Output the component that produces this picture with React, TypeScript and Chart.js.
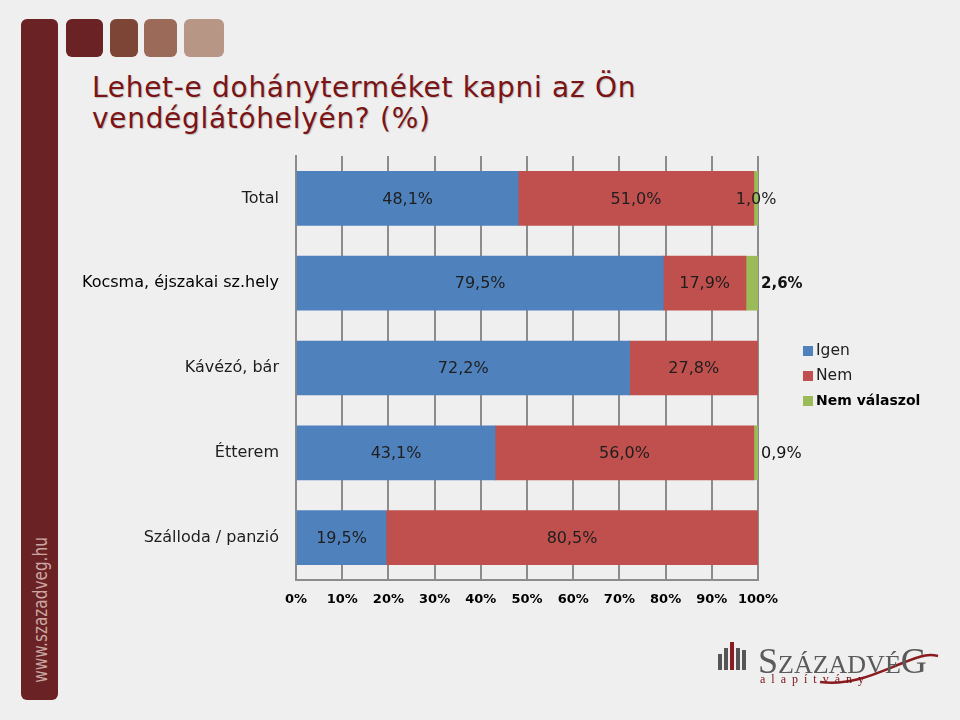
import React, { useEffect, useRef } from "react";
import { Chart, registerables } from "chart.js";

Chart.register(...registerables);

const categories = ["Total", "Kocsma, éjszakai sz.hely", "Kávézó, bár", "Étterem", "Szálloda / panzió"];
const igenValues = [48.1, 79.5, 72.2, 43.1, 19.5];
const nemValues = [51.0, 17.9, 27.8, 56.0, 80.5];
const nemValaszolValues = [1.0, 2.6, 0, 0.9, 0];
const seriesNames = ["Igen", "Nem", "Nem válaszol"];
const seriesColors = ["#4f81bd", "#c0504d", "#9bbb59"];
const xTickValues = [0, 10, 20, 30, 40, 50, 60, 70, 80, 90, 100];

const FONT = "'DejaVu Sans', Verdana, sans-serif";

const fmt = (v: number) => v.toFixed(1).replace(".", ",") + "%";

const labelPlugin = {
  id: "barLabels",
  afterDatasetsDraw(chart: any) {
    const ctx = chart.ctx;
    ctx.save();
    ctx.textBaseline = "middle";
    chart.data.datasets.forEach((ds: any, di: number) => {
      const meta = chart.getDatasetMeta(di);
      meta.data.forEach((el: any, i: number) => {
        const v = ds.data[i];
        if (!v) return;
        const left = Math.min(el.x, el.base);
        const right = Math.max(el.x, el.base);
        if (di === 2 && i > 0) {
          ctx.textAlign = "left";
          ctx.font = (i === 1 ? "bold 15px " : "16px ") + FONT;
          ctx.fillStyle = "#111";
          ctx.fillText(fmt(v), right + 3, el.y + 1);
        } else {
          ctx.textAlign = "center";
          ctx.font = "16px " + FONT;
          ctx.fillStyle = "#1e1e1e";
          ctx.fillText(fmt(v), (left + right) / 2, el.y + 1);
        }
      });
    });
    ctx.restore();
  },
};

function BarChart() {
  const ref = useRef<HTMLCanvasElement>(null);
  useEffect(() => {
    if (!ref.current) return;
    const chart = new Chart(ref.current, {
      type: "bar",
      data: {
        labels: categories,
        datasets: [igenValues, nemValues, nemValaszolValues].map((d, i) => ({
          label: seriesNames[i],
          data: d,
          backgroundColor: seriesColors[i],
          borderWidth: 0,
          barThickness: 54,
        })),
      },
      options: {
        indexAxis: "y",
        animation: false,
        responsive: false,
        maintainAspectRatio: false,
        layout: { padding: { left: 0, right: 202, top: 156, bottom: 110 } },
        plugins: { legend: { display: false }, tooltip: { enabled: false } },
        scales: {
          x: {
            stacked: true,
            min: 0,
            max: 100,
            afterFit: (s: any) => { s.height = 30; },
            afterBuildTicks: (s: any) => { s.ticks = xTickValues.map((v) => ({ value: v })); },
            grid: { color: "#8c8c8c", lineWidth: 2, drawTicks: false },
            border: { color: "#8c8c8c", width: 2 },
            ticks: {
              padding: 12,
              color: "#000",
              font: { family: FONT, size: 13, weight: "bold" },
              callback: (v: any) => v + "%",
            },
          },
          y: {
            stacked: true,
            afterFit: (s: any) => { s.width = 296; },
            grid: { display: false, drawTicks: false },
            border: { color: "#8c8c8c", width: 2 },
            ticks: {
              padding: 17,
              color: (c: any) => (c.index === 1 ? "#000" : "#1e1e1e"),
              font: { family: FONT, size: 16 },
            },
          },
        },
      } as any,
      plugins: [labelPlugin],
    });
    return () => chart.destroy();
  }, []);
  return <canvas ref={ref} width={960} height={720} style={{ position: "absolute", left: 0, top: 0, width: 960, height: 720 }} />;
}

export default function App() {
  const squares = [
    { x: 66, w: 37, c: "#6b2224" },
    { x: 110, w: 28, c: "#7d4536" },
    { x: 144, w: 33, c: "#9b6a58" },
    { x: 184, w: 40, c: "#b89686" },
  ];
  return (
    <div style={{ position: "fixed", left: 0, top: 0, width: 960, height: 720, background: "#efefef", overflow: "hidden", fontFamily: FONT }}>
      <div style={{ position: "absolute", left: 21, top: 19, width: 37, height: 681, background: "#6b2224", borderRadius: 6 }} />
      {squares.map((s, i) => (
        <div key={i} style={{ position: "absolute", left: s.x, top: 19, width: s.w, height: 38, background: s.c, borderRadius: 6 }} />
      ))}
      <div
        style={{
          position: "absolute",
          left: 40,
          top: 610,
          transform: "translate(-50%, -50%) rotate(-90deg) scaleX(0.85)",
          color: "#c9a6a3",
          fontFamily: "'DejaVu Sans Condensed', 'Liberation Sans Narrow', sans-serif",
          fontSize: 20,
          whiteSpace: "nowrap",
        }}
      >
        www.szazadveg.hu
      </div>
      <div
        style={{
          position: "absolute",
          left: 92,
          top: 72,
          color: "#7a1416",
          fontSize: 28,
          letterSpacing: 0.7,
          lineHeight: "31px",
          textShadow: "1px 1px 1px rgba(0,0,0,0.2)",
          whiteSpace: "nowrap",
        }}
      >
        Lehet-e dohányterméket kapni az Ön
        <br />
        vendéglátóhelyén? (%)
      </div>
      <BarChart />
      <div style={{ position: "absolute", left: 803, top: 338, lineHeight: "25px", color: "#1e1e1e" }}>
        {seriesNames.map((n, i) => (
          <div key={n} style={{ display: "flex", alignItems: "center", fontSize: i === 2 ? 14 : 15.5, fontWeight: i === 2 ? "bold" : "normal", color: i === 2 ? "#000" : "#1e1e1e" }}>
            <span style={{ display: "inline-block", width: 10, height: 10, background: seriesColors[i], marginRight: 3 }} />
            {n}
          </div>
        ))}
      </div>
      <svg style={{ position: "absolute", left: 700, top: 630 }} width={260} height={70}>
        <rect x={18} y={24} width={4} height={16} fill="#555" />
        <rect x={24} y={18} width={4} height={22} fill="#555" />
        <rect x={30} y={12} width={4} height={28} fill="#8a1c20" />
        <rect x={36} y={18} width={4} height={22} fill="#555" />
        <rect x={42} y={20} width={4} height={20} fill="#555" />
        <path d="M 120 52 C 150 56, 175 44, 200 34 S 230 24, 238 26" stroke="#8a1c20" strokeWidth={2.5} fill="none" />
      </svg>
      <div style={{ position: "absolute", left: 758, top: 640, color: "#5a5a5a", fontFamily: "'Liberation Serif', 'DejaVu Serif', serif", whiteSpace: "nowrap" }}>
        <span style={{ fontSize: 36 }}>S</span>
        <span style={{ fontSize: 26 }}>ZÁZADVÉ</span>
        <span style={{ fontSize: 36 }}>G</span>
      </div>
      <div style={{ position: "absolute", left: 760, top: 672, color: "#7a1416", fontFamily: "'Liberation Serif', 'DejaVu Serif', serif", fontSize: 12, letterSpacing: 6, whiteSpace: "nowrap" }}>
        alapítvány
      </div>
    </div>
  );
}
